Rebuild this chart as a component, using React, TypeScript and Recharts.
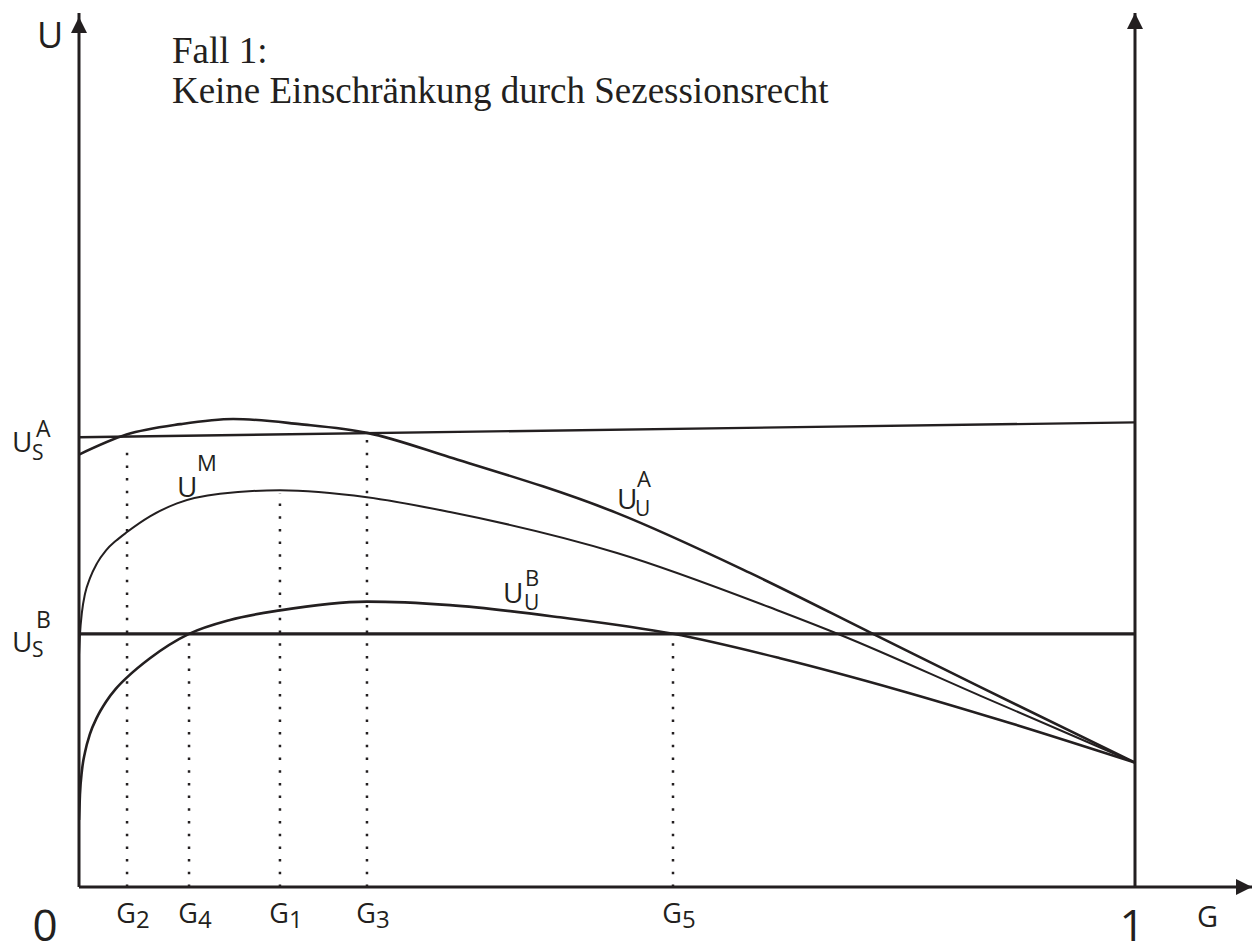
import React from 'react';
import { LineChart, Line, XAxis, YAxis, ReferenceLine, ReferenceDot } from 'recharts';

const INK = '#231f20';
const SANS = '"Open Sans", "DejaVu Sans", sans-serif';
const SERIF = '"Liberation Serif", "Times New Roman", serif';

// G (share) on x, U (utility) on y; U = 100 is the tip of the U arrow
const gA = [0, 0.045, 0.096, 0.146, 0.209, 0.273, 0.351, 0.509, 0.6354, 0.7519, 0.8532, 1];
const uA = [49.7, 52.0, 53.2, 53.8, 53.2, 52.2, 49.4, 43.0, 36.1, 29.1, 23.0, 14.3];

const gM = [0, 0.0009, 0.0028, 0.0057, 0.0104, 0.017, 0.0256, 0.035, 0.0455, 0.0672, 0.0928, 0.1335, 0.1903, 0.2727, 0.3513, 0.5095, 0.6638, 0.7206, 0.8532, 1];
const uM = [26.7, 29.0, 31.6, 33.7, 35.5, 37.2, 38.7, 39.8, 40.8, 42.6, 44.1, 45.2, 45.6, 44.8, 43.1, 38.4, 31.7, 29.0, 22.0, 14.3];

const gB = [0, 0.0009, 0.0028, 0.0057, 0.0104, 0.017, 0.0256, 0.035, 0.0455, 0.0672, 0.1042, 0.143, 0.1903, 0.2727, 0.3513, 0.4555, 0.5625, 0.6638, 0.7775, 0.8722, 1];
const uB = [7.7, 10.6, 13.4, 15.5, 17.6, 19.5, 21.3, 22.8, 24.1, 26.3, 29.1, 30.7, 31.8, 32.8, 32.4, 31.0, 29.1, 26.3, 22.6, 19.2, 14.3];

// secession utilities (flat-ish lines)
const gSA = [0, 1];
const uSA = [51.7, 53.4];
const gSB = [0, 1];
const uSB = [29.1, 29.1];

// marked points on the G axis, and how high their dotted guides reach
const markNames = ['2', '4', '1', '3', '5'];
const markG = [0.0455, 0.1042, 0.1903, 0.2727, 0.5625];
const markTop = [50.2, 29.1, 45.3, 52.2, 29.1];

const G_MAX = 1.1108;
const U_MAX = 100.46;

const toRows = (g: number[], u: number[]) => g.map((x, i) => ({ x, u: u[i] }));

const upArrow = (p: any) => (
  <polygon points={`${p.cx},${p.cy} ${p.cx - 8},${p.cy + 16} ${p.cx + 8},${p.cy + 16}`} fill={INK} />
);
const rightArrow = (p: any) => (
  <polygon points={`${p.cx},${p.cy} ${p.cx - 16},${p.cy - 8} ${p.cx - 16},${p.cy + 8}`} fill={INK} />
);

// U with a subscript and/or superscript, one text element from the baseline-left of the big U
const uLabel = (sub: string, sup: string, subDx: number, subDy: number, supDx: number, supDy: number) => (p: any) => (
  <text x={p.cx} y={p.cy} fontFamily={SANS} fill={INK} fontSize={28}>
    U
    {sub && (
      <tspan x={p.cx + subDx} y={p.cy + subDy} fontSize={21}>
        {sub}
      </tspan>
    )}
    {sup && (
      <tspan x={p.cx + supDx} y={p.cy + supDy} fontSize={22}>
        {sup}
      </tspan>
    )}
  </text>
);

const textAt = (s: string, size: number, family: string, dx = 0, dy = 0) => (p: any) => (
  <text x={p.cx + dx} y={p.cy + dy} fontSize={size} fontFamily={family} fill={INK}>{s}</text>
);

const GTick = (props: any) => {
  const { x, y, payload } = props;
  const v = payload.value;
  if (v === 0 || v === 1) {
    return (
      <text x={v === 0 ? x - 34 : x - 3} y={y + 54} textAnchor="middle" fontSize={44} fontFamily={SANS} fill={INK}>
        {v}
      </text>
    );
  }
  const i = markG.indexOf(v);
  return (
    <text x={x + 6} y={y + 36} textAnchor="middle" fontSize={27} fontFamily={SANS} fill={INK}>
      G<tspan fontSize={24} dy={5}>{markNames[i]}</tspan>
    </text>
  );
};

const UTick = (props: any) => {
  const { y, payload } = props;
  const isA = payload.value === uSA[0];
  return (
    <text x={12} y={y + (isA ? 15 : 18)} fontFamily={SANS} fill={INK} fontSize={28}>
      U
      <tspan x={32} y={y + 23} fontSize={21}>S</tspan>
      <tspan x={36} y={y + (isA ? 0 : -6)} fontSize={23}>{isA ? 'A' : 'B'}</tspan>
    </text>
  );
};

export default function App() {
  return (
    <div style={{ position: 'absolute', left: 0, top: 0, width: 1253, height: 947, background: '#fff' }}>
      <LineChart width={1253} height={947} margin={{ top: 13, right: 1, bottom: 0, left: 0 }}>
        <XAxis
          type="number"
          dataKey="x"
          domain={[0, G_MAX]}
          allowDataOverflow
          ticks={[0, ...markG, 1]}
          tick={<GTick />}
          tickLine={false}
          tickSize={0}
          tickMargin={0}
          interval={0}
          height={60}
          axisLine={{ stroke: INK, strokeWidth: 3 }}
        />
        <YAxis
          type="number"
          dataKey="u"
          domain={[0, U_MAX]}
          allowDataOverflow
          ticks={[uSA[0], uSB[0]]}
          tick={<UTick />}
          tickLine={false}
          tickSize={0}
          tickMargin={0}
          interval={0}
          width={79}
          axisLine={{ stroke: INK, strokeWidth: 3 }}
        />

        {markG.map((g, i) => (
          <ReferenceLine
            key={`mark-${i}`}
            segment={[{ x: g, y: 0 }, { x: g, y: markTop[i] }]}
            stroke={INK}
            strokeWidth={2.5}
            strokeDasharray="2.5 10.2"
          />
        ))}

        <ReferenceLine segment={[{ x: 1, y: 0 }, { x: 1, y: U_MAX }]} stroke={INK} strokeWidth={3} ifOverflow="visible" />

        <Line data={toRows(gSA, uSA)} dataKey="u" type="linear" stroke={INK} strokeWidth={2.4} dot={false} isAnimationActive={false} />
        <Line data={toRows(gSB, uSB)} dataKey="u" type="linear" stroke={INK} strokeWidth={3.4} dot={false} isAnimationActive={false} />
        <Line data={toRows(gA, uA)} dataKey="u" type="monotone" stroke={INK} strokeWidth={2.6} dot={false} isAnimationActive={false} />
        <Line data={toRows(gM, uM)} dataKey="u" type="monotone" stroke={INK} strokeWidth={2} dot={false} isAnimationActive={false} />
        <Line data={toRows(gB, uB)} dataKey="u" type="monotone" stroke={INK} strokeWidth={2.6} dot={false} isAnimationActive={false} />

        {/* axis arrow heads */}
        <ReferenceDot x={0} y={100} r={0} ifOverflow="visible" shape={upArrow} />
        <ReferenceDot x={1} y={U_MAX} r={0} ifOverflow="visible" shape={upArrow} />
        <ReferenceDot x={G_MAX} y={0} r={0} ifOverflow="visible" shape={rightArrow} />

        {/* axis names */}
        <ReferenceDot x={0} y={100} r={0} ifOverflow="visible" shape={textAt('U', 36, SANS, -42, 31)} />
        <ReferenceDot x={1.0587} y={0} r={0} ifOverflow="visible" shape={textAt('G', 29, SANS, 0, 40)} />

        {/* title */}
        <ReferenceDot x={0.088} y={94.7} r={0} ifOverflow="visible" shape={textAt('Fall 1:', 37, SERIF)} />
        <ReferenceDot x={0.088} y={90.1} r={0} ifOverflow="visible" shape={textAt('Keine Einschränkung durch Sezessionsrecht', 37, SERIF)} />

        {/* curve names */}
        <ReferenceDot x={0.0928} y={44.8} r={0} ifOverflow="visible" shape={uLabel('', 'M', 0, 0, 20, -26)} />
        <ReferenceDot x={0.5095} y={43.4} r={0} ifOverflow="visible" shape={uLabel('U', 'A', 18, 7, 20, -22)} />
        <ReferenceDot x={0.4015} y={32.6} r={0} ifOverflow="visible" shape={uLabel('U', 'B', 21, 7, 22, -17)} />
      </LineChart>
    </div>
  );
}
